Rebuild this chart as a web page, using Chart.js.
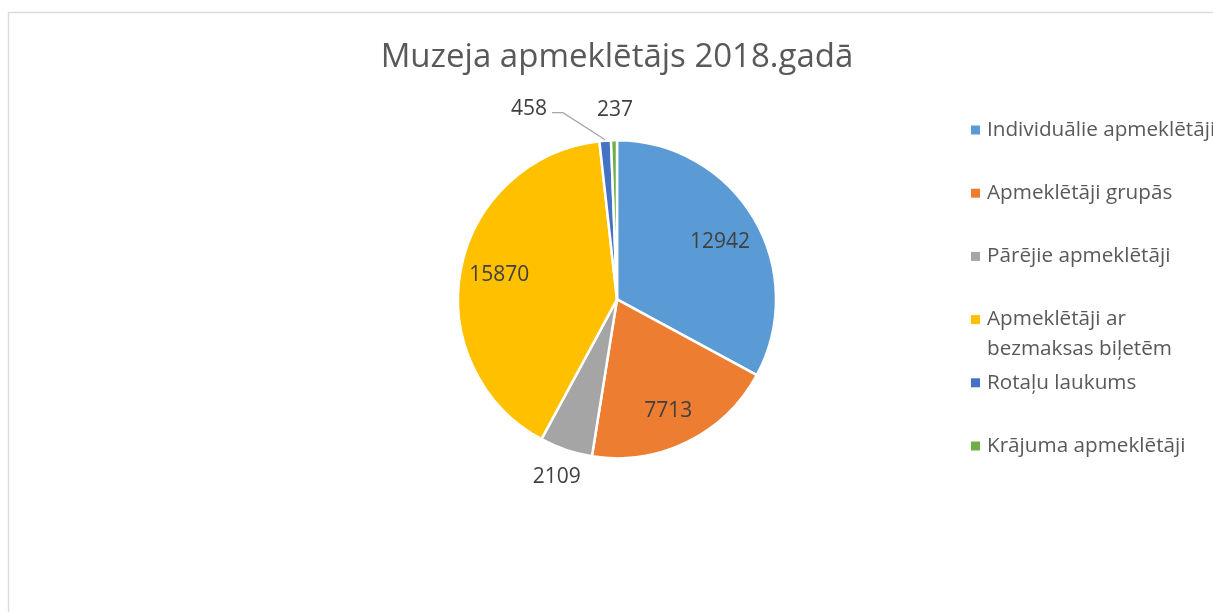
<!DOCTYPE html>
<html><head><meta charset="utf-8">
<script src="https://cdn.jsdelivr.net/npm/chart.js@4.4.0/dist/chart.umd.min.js"></script>
<style>html,body{margin:0;padding:0;background:#fff;overflow:hidden}#wrap{width:1213px;height:612px;position:relative}</style>
</head><body><div id="wrap"><canvas id="c" width="1213" height="612"></canvas></div>
<script>
const titleText = 'Muzeja apmeklētājs 2018.gadā';
const categories = ['Individuālie apmeklētāji', 'Apmeklētāji grupās', 'Pārējie apmeklētāji', 'Apmeklētāji ar bezmaksas biļetēm', 'Rotaļu laukums', 'Krājuma apmeklētāji'];
const visitors = [12942, 7713, 2109, 15870, 458, 237];
const sliceColors = ['#5B9BD5', '#ED7D31', '#A5A5A5', '#FFC000', '#4472C4', '#70AD47'];

// label placement relative to each arc (fraction of outer radius + pixel nudge)
const labelPlacement = [
  {r: 0.74, dx: 2, dy: 3},
  {r: 0.785, dx: -4, dy: 0},
  {r: 1.18, dx: 0, dy: 0},
  {r: 0.755, dx: 0, dy: -1},
  {r: 1.19, dx: -74, dy: -2, leader: true},
  {r: 1.19, dx: 1.5, dy: 0}
];

const FONT = '"Open Sans", "DejaVu Sans", sans-serif';

const framePlugin = {
  id: 'frame',
  beforeDraw(chart) {
    const ctx = chart.ctx;
    ctx.save();
    ctx.fillStyle = '#fff';
    ctx.fillRect(0, 0, chart.width, chart.height);
    ctx.strokeStyle = '#D9D9D9';
    ctx.lineWidth = 1.3;
    ctx.strokeRect(8.5, 12.5, 1400, 800);
    ctx.restore();
  }
};

function wrapText(ctx, text, maxW) {
  const words = text.split(' ');
  const lines = [];
  let cur = '';
  words.forEach(w => {
    const t = cur ? cur + ' ' + w : w;
    if (cur && ctx.measureText(t).width > maxW) { lines.push(cur); cur = w; }
    else cur = t;
  });
  if (cur) lines.push(cur);
  return lines;
}

const labelsPlugin = {
  id: 'sliceLabels',
  afterDatasetsDraw(chart) {
    const ctx = chart.ctx;
    const meta = chart.getDatasetMeta(0);
    const ds = chart.data.datasets[0];
    ctx.save();
    ctx.font = '21px ' + FONT;
    ctx.fillStyle = '#404040';
    ctx.textAlign = 'center';
    ctx.textBaseline = 'middle';
    meta.data.forEach((arc, i) => {
      const p = arc.getProps(['x', 'y', 'startAngle', 'endAngle', 'outerRadius'], true);
      const mid = (p.startAngle + p.endAngle) / 2;
      const pl = labelPlacement[i];
      const r = p.outerRadius * pl.r;
      const lx = p.x + Math.cos(mid) * r + pl.dx;
      const ly = p.y + Math.sin(mid) * r + pl.dy;
      const txt = String(ds.data[i]);
      if (pl.leader) {
        const w = ctx.measureText(txt).width;
        const ex = p.x + Math.cos(mid) * (p.outerRadius + 1);
        const ey = p.y + Math.sin(mid) * (p.outerRadius + 1);
        ctx.save();
        ctx.strokeStyle = '#A6A6A6';
        ctx.lineWidth = 1.3;
        ctx.beginPath();
        ctx.moveTo(lx + w / 2 + 5, ly + 4);
        ctx.lineTo(lx + w / 2 + 16, ly + 4);
        ctx.lineTo(ex, ey);
        ctx.stroke();
        ctx.restore();
      }
      ctx.fillText(txt, lx, ly);
    });
    ctx.restore();
  }
};

const legendPlugin = {
  id: 'sideLegend',
  afterDraw(chart) {
    const ctx = chart.ctx;
    const ds = chart.data.datasets[0];
    ctx.save();
    ctx.font = '20.7px ' + FONT;
    ctx.textBaseline = 'middle';
    ctx.textAlign = 'left';
    const x0 = 971, y0 = 130, step = 63.2, lineH = 30;
    chart.data.labels.forEach((lab, i) => {
      const y = y0 + step * i;
      ctx.fillStyle = ds.backgroundColor[i];
      ctx.fillRect(x0, y - 4.5, 9, 9);
      ctx.fillStyle = '#595959';
      const lines = wrapText(ctx, lab, 245);
      lines.forEach((ln, k) => ctx.fillText(ln, x0 + 16, y + k * lineH));
    });
    ctx.restore();
  }
};

new Chart(document.getElementById('c'), {
  type: 'pie',
  data: {
    labels: categories,
    datasets: [{
      data: visitors,
      backgroundColor: sliceColors,
      borderColor: '#ffffff',
      borderWidth: 2.5,
      radius: 159
    }]
  },
  options: {
    responsive: false,
    animation: false,
    devicePixelRatio: 1,
    layout: {padding: {left: 221, right: 200, top: 0, bottom: 98}},
    plugins: {
      legend: {display: false},
      tooltip: {enabled: false},
      title: {
        display: true,
        text: titleText,
        color: '#595959',
        font: {family: FONT, size: 33, weight: 'normal', lineHeight: 1.2},
        padding: {top: 38, bottom: 7}
      }
    }
  },
  plugins: [framePlugin, labelsPlugin, legendPlugin]
});
</script>
</body></html>
